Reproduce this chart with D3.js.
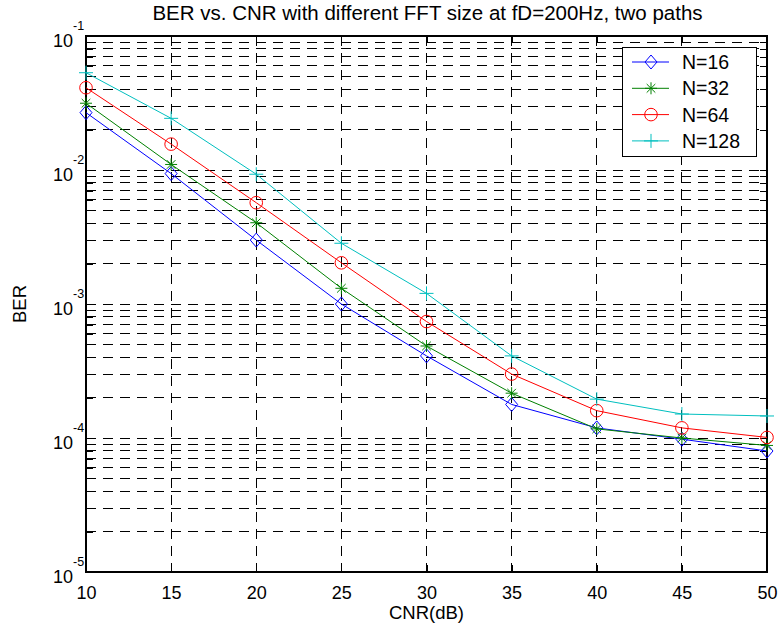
<!DOCTYPE html>
<html>
<head>
<meta charset="utf-8">
<script src="https://cdn.jsdelivr.net/npm/d3@7"></script>
<style>
  body { margin: 0; background: #fff; }
  text { font-family: "Liberation Sans", Arial, Helvetica, sans-serif; fill: #000; }
</style>
</head>
<body>
<svg id="chart" width="779" height="632"></svg>
<script>
// data
const cnr = [10, 15, 20, 25, 30, 35, 40, 45, 50];
const berN16  = [0.0268, 0.0094, 0.0030, 0.00100, 0.00041, 0.000178, 0.000119, 0.000098, 0.000080];
const berN32  = [0.0315, 0.0110, 0.00404, 0.00131, 0.000486, 0.000216, 0.000117, 0.000100, 0.000088];
const berN64  = [0.0411, 0.0156, 0.0057, 0.00203, 0.00074, 0.000300, 0.000160, 0.000119, 0.000101];
const berN128 = [0.0532, 0.0243, 0.0093, 0.00284, 0.00120, 0.000410, 0.000195, 0.000151, 0.000146];

const seriesNames = ["N=16", "N=32", "N=64", "N=128"];
const xTicks = [10, 15, 20, 25, 30, 35, 40, 45, 50];
const yMajorTicks = [1e-5, 1e-4, 1e-3, 1e-2, 1e-1];
const yExponents = ["-5", "-4", "-3", "-2", "-1"];

const series = [
  {name: seriesNames[0], values: berN16,  color: "#0000ff", marker: "diamond"},
  {name: seriesNames[1], values: berN32,  color: "#008000", marker: "star"},
  {name: seriesNames[2], values: berN64,  color: "#ff0000", marker: "circle"},
  {name: seriesNames[3], values: berN128, color: "#00bfbf", marker: "plus"}
];

const margin = {top: 36, right: 12, bottom: 60, left: 86};
const width = 779, height = 632;
const plotW = width - margin.left - margin.right;   // 681
const plotH = height - margin.top - margin.bottom;  // 536

const svg = d3.select("#chart");

const x = d3.scaleLinear().domain([10, 50]).range([margin.left, margin.left + plotW]);
const y = d3.scaleLog().domain([1e-5, 1e-1]).range([margin.top + plotH, margin.top]);

// every 1..9 x 10^k for the log grid
let yGridVals = [];
for (let k = -5; k < -1; k++) {
  for (let m = 1; m <= 9; m++) yGridVals.push(m * Math.pow(10, k));
}
yGridVals.push(1e-1);

// grid (dashed)
const grid = svg.append("g").attr("stroke", "#000").attr("stroke-width", 1)
  .attr("stroke-dasharray", "10,7").attr("shape-rendering", "crispEdges");

grid.selectAll(".hgrid").data(yGridVals).enter().append("line")
  .attr("x1", margin.left).attr("x2", margin.left + plotW)
  .attr("y1", d => y(d)).attr("y2", d => y(d));

grid.selectAll(".vgrid").data(xTicks).enter().append("line")
  .attr("y1", margin.top).attr("y2", margin.top + plotH)
  .attr("x1", d => x(d)).attr("x2", d => x(d));

// axes with inward ticks
const tickLen = 7;
svg.append("g")
  .attr("transform", "translate(0," + (margin.top + plotH) + ")")
  .call(d3.axisBottom(x).tickValues(xTicks).tickSize(-tickLen).tickPadding(tickLen + 7).tickSizeOuter(0))
  .call(g => g.select(".domain").remove())
  .call(g => g.selectAll("text").attr("font-size", 18).attr("font-family", "Liberation Sans, Arial, sans-serif"));

svg.append("g")
  .attr("transform", "translate(0," + margin.top + ")")
  .call(d3.axisTop(x).tickValues(xTicks).tickSize(-tickLen).tickFormat("").tickSizeOuter(0))
  .call(g => g.select(".domain").remove());

svg.append("g")
  .attr("transform", "translate(" + margin.left + ",0)")
  .call(d3.axisLeft(y).tickValues(yGridVals).tickSize(-tickLen).tickFormat("").tickSizeOuter(0))
  .call(g => g.select(".domain").remove());

svg.append("g")
  .attr("transform", "translate(" + (margin.left + plotW) + ",0)")
  .call(d3.axisRight(y).tickValues(yGridVals).tickSize(-tickLen).tickFormat("").tickSizeOuter(0))
  .call(g => g.select(".domain").remove());

svg.selectAll(".tick line").attr("stroke", "#000").attr("shape-rendering", "crispEdges");

// y labels as 10^k
const yLab = svg.append("g");
yMajorTicks.forEach((v, i) => {
  yLab.append("text")
    .attr("x", margin.left - 13).attr("y", y(v) + 11)
    .attr("text-anchor", "end").attr("font-size", 18)
    .text("10");
  yLab.append("text")
    .attr("x", margin.left - 13).attr("y", y(v) - 6)
    .attr("text-anchor", "start").attr("font-size", 12.5)
    .text(yExponents[i]);
});

// box
svg.append("rect")
  .attr("x", margin.left).attr("y", margin.top)
  .attr("width", plotW).attr("height", plotH)
  .attr("fill", "none").attr("stroke", "#000").attr("stroke-width", 1.2)
  .attr("shape-rendering", "crispEdges");

function markerPath(type) {
  if (type === "diamond") return "M0,-7L6,0L0,7L-6,0Z";
  if (type === "plus") return "M-7,0L7,0M0,-7L0,7";
  if (type === "star") return "M-6,0L6,0M0,-6L0,6M-4.3,-4.3L4.3,4.3M-4.3,4.3L4.3,-4.3";
  return null;
}

function drawMarker(g, type, color, cx, cy) {
  if (type === "circle") {
    g.append("circle").attr("cx", cx).attr("cy", cy).attr("r", 6.3)
      .attr("fill", "none").attr("stroke", color).attr("stroke-width", 1);
  } else {
    g.append("path").attr("d", markerPath(type))
      .attr("transform", "translate(" + cx + "," + cy + ")")
      .attr("fill", "none").attr("stroke", color).attr("stroke-width", 1);
  }
}

const line = d3.line().x((d, i) => x(cnr[i])).y(d => y(d));

series.forEach(s => {
  const g = svg.append("g");
  g.append("path").datum(s.values)
    .attr("d", line).attr("fill", "none")
    .attr("stroke", s.color).attr("stroke-width", 1);
  s.values.forEach((v, i) => drawMarker(g, s.marker, s.color, x(cnr[i]), y(v)));
});

// title and axis labels
svg.append("text")
  .attr("x", margin.left + plotW / 2 + 1).attr("y", 20)
  .attr("text-anchor", "middle").attr("font-size", 20.5)
  .text("BER vs. CNR with different FFT size at fD=200Hz, two paths");

svg.append("text")
  .attr("x", margin.left + plotW / 2).attr("y", 619)
  .attr("text-anchor", "middle").attr("font-size", 18.5)
  .text("CNR(dB)");

svg.append("text")
  .attr("transform", "translate(26," + (margin.top + plotH / 2) + ") rotate(-90)")
  .attr("text-anchor", "middle").attr("font-size", 18.5)
  .text("BER");

// legend
const legend = svg.append("g").attr("transform", "translate(622,47)");
legend.append("rect").attr("width", 134).attr("height", 109)
  .attr("fill", "#fff").attr("stroke", "#000").attr("stroke-width", 1)
  .attr("shape-rendering", "crispEdges");

series.forEach((s, i) => {
  const ly = 15 + i * 26.3;
  legend.append("line").attr("x1", 10).attr("x2", 47).attr("y1", ly).attr("y2", ly)
    .attr("stroke", s.color).attr("stroke-width", 1);
  drawMarker(legend, s.marker, s.color, 29, ly);
  legend.append("text").attr("x", 60).attr("y", ly + 7)
    .attr("font-size", 19.5).text(s.name);
});
</script>
</body>
</html>
